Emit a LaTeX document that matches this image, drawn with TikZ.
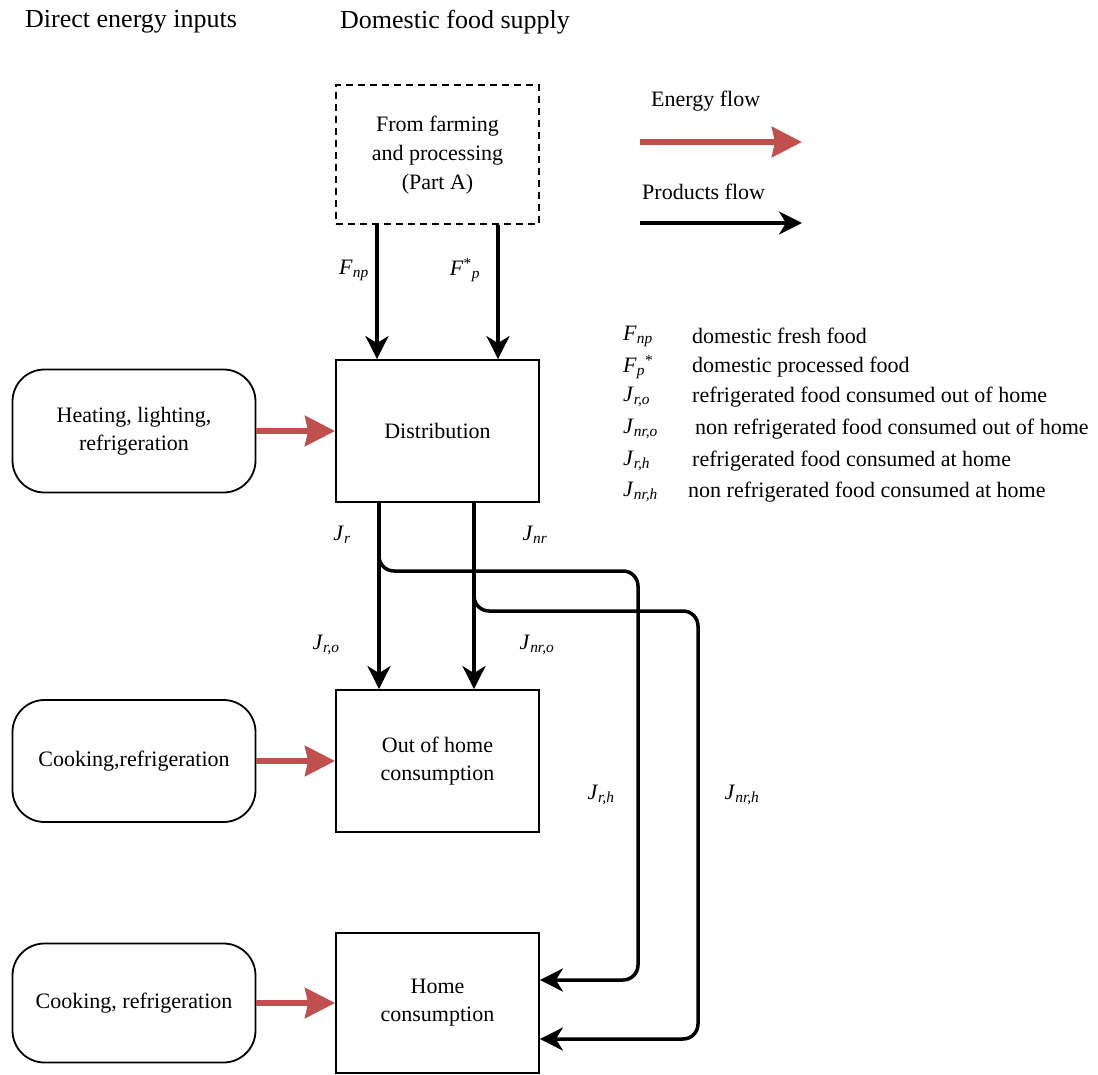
\documentclass[tikz,border=0pt]{standalone}
\usepackage{fontspec}
\setmainfont{Liberation Serif}
\newfontfamily\tnr{Liberation Serif}
\usetikzlibrary{arrows.meta}
\definecolor{energyred}{RGB}{192,80,77}
\newcommand{\symb}[2]{\textit{#1}\textsubscript{\textit{#2}}}
\begin{document}
\begin{tikzpicture}[x=1pt,y=-1pt,
  ttl/.style={font=\tnr\fontsize{26}{30}\selectfont, inner sep=0pt, anchor=west},
  procbox/.style={draw, line width=1.8pt, font=\tnr\fontsize{22}{28}\selectfont, align=center, inner sep=0pt},
  inbox/.style={draw, line width=1.8pt, rounded corners=32pt, font=\tnr\fontsize{22}{28}\selectfont, align=center, inner sep=0pt, minimum width=243pt},
  farmbox/.style={draw, line width=2pt, dash pattern=on 7pt off 5pt, font=\tnr\fontsize{22}{29}\selectfont, align=center, inner sep=0pt},
  energy/.style={line width=6pt, energyred, -{Stealth[length=30pt,width=30pt,inset=3pt]}},
  prod/.style={line width=3.5pt, -{Stealth[length=23pt,width=23pt,inset=7pt]}},
  flowpath/.style={prod, rounded corners=15pt},
  lbl/.style={font=\tnr\fontsize{22}{26}\selectfont, inner sep=0pt},
  legsym/.style={font=\tnr\fontsize{22}{26}\selectfont, inner sep=0pt, anchor=west},
  legtxt/.style={font=\tnr\fontsize{22}{26}\selectfont, inner sep=0pt, anchor=west}
]
\useasboundingbox (0,0) rectangle (1098,1075);

% titles
\node[ttl] (t1) at (25,22) {Direct energy inputs};
\node[ttl] (t2) at (340,22) {Domestic food supply};

% main boxes
\node[farmbox, minimum width=203pt, minimum height=139pt] (farm) at (437.5,155) {From farming\\and processing\\(Part A)};
\node[procbox, minimum width=203pt, minimum height=142pt] (dist) at (437.5,431) {Distribution};
\node[procbox, minimum width=203pt, minimum height=142pt] (out) at (437.5,761) {Out of home\\consumption};
\node[procbox, minimum width=203pt, minimum height=140pt] (home) at (437.5,1003) {Home\\consumption};

% energy input boxes
\node[inbox, minimum height=123pt] (heat) at (134,431) {Heating, lighting,\\refrigeration};
\node[inbox, minimum height=122pt] (cook1) at (134,761) {Cooking,refrigeration};
\node[inbox, minimum height=119pt] (cook2) at (134,1003) {Cooking, refrigeration};

% energy arrows
\draw[energy] (heat.east) -- (dist.west);
\draw[energy] (cook1.east) -- (out.west);
\draw[energy] (cook2.east) -- (home.west);

% helper coordinates
\coordinate (xa) at (377,0);
\coordinate (xb) at (498,0);
\coordinate (xr) at (379,0);
\coordinate (xn) at (474,0);
\coordinate (vr) at (638,0);
\coordinate (vn) at (698,0);
\coordinate (hr) at (0,571);
\coordinate (hn) at (0,611);
\coordinate (h1) at (0,980);
\coordinate (h2) at (0,1039);

% product arrows
\draw[prod] (farm.south -| xa) -- (dist.north -| xa);
\draw[prod] (farm.south -| xb) -- (dist.north -| xb);
\draw[prod] (dist.south -| xr) -- (out.north -| xr);
\draw[prod] (dist.south -| xn) -- (out.north -| xn);
\draw[flowpath] (dist.south -| xr) -- (xr |- hr) -- (vr |- hr) -- (vr |- h1) -- (home.east |- h1);
\draw[flowpath] (dist.south -| xn) -- (xn |- hn) -- (vn |- hn) -- (vn |- h2) -- (home.east |- h2);

% flow labels
\node[lbl] (lfnp) at (354,270) {\symb{F}{np}};
\node[lbl] (lfp) at (465,270) {\textit{F}\textsuperscript{*}\textsubscript{\textit{p}}};
\node[lbl] (ljr) at (342,535) {\symb{J}{r}};
\node[lbl] (ljnr) at (535,535) {\symb{J}{nr}};
\node[lbl] (ljro) at (326,645) {\symb{J}{r,o}};
\node[lbl] (ljnro) at (537,645) {\symb{J}{nr,o}};
\node[lbl] (ljrh) at (601,795) {\symb{J}{r,h}};
\node[lbl] (ljnrh) at (742,795) {\symb{J}{nr,h}};

% legend arrows
\node[legtxt] (le) at (651,101) {Energy flow};
\coordinate (ea) at (640,142);
\coordinate (eb) at (802,142);
\draw[energy] (ea) -- (eb);
\node[legtxt] (lp) at (642,192) {Products flow};
\coordinate (pa) at (640,223);
\coordinate (pb) at (802,223);
\draw[prod] (pa) -- (pb);

% legend symbols
\node[legsym] (s1) at (623,336) {\symb{F}{np}};
\node[legtxt] (d1) at (692,336) {domestic fresh food};
\node[legsym] (s2) at (623,367) {\textit{F}\textsubscript{\textit{p}}\textsuperscript{*}};
\node[legtxt] (d2) at (692,367) {domestic processed food};
\node[legsym] (s3) at (623,397) {\symb{J}{r,o}};
\node[legtxt] (d3) at (692,397) {refrigerated food consumed out of home};
\node[legsym] (s4) at (623,429) {\symb{J}{nr,o}};
\node[legtxt] (d4) at (695,429) {non refrigerated food consumed out of home};
\node[legsym] (s5) at (623,461) {\symb{J}{r,h}};
\node[legtxt] (d5) at (692,461) {refrigerated food consumed at home};
\node[legsym] (s6) at (623,492) {\symb{J}{nr,h}};
\node[legtxt] (d6) at (688,492) {non refrigerated food consumed at home};
\end{tikzpicture}
\end{document}
